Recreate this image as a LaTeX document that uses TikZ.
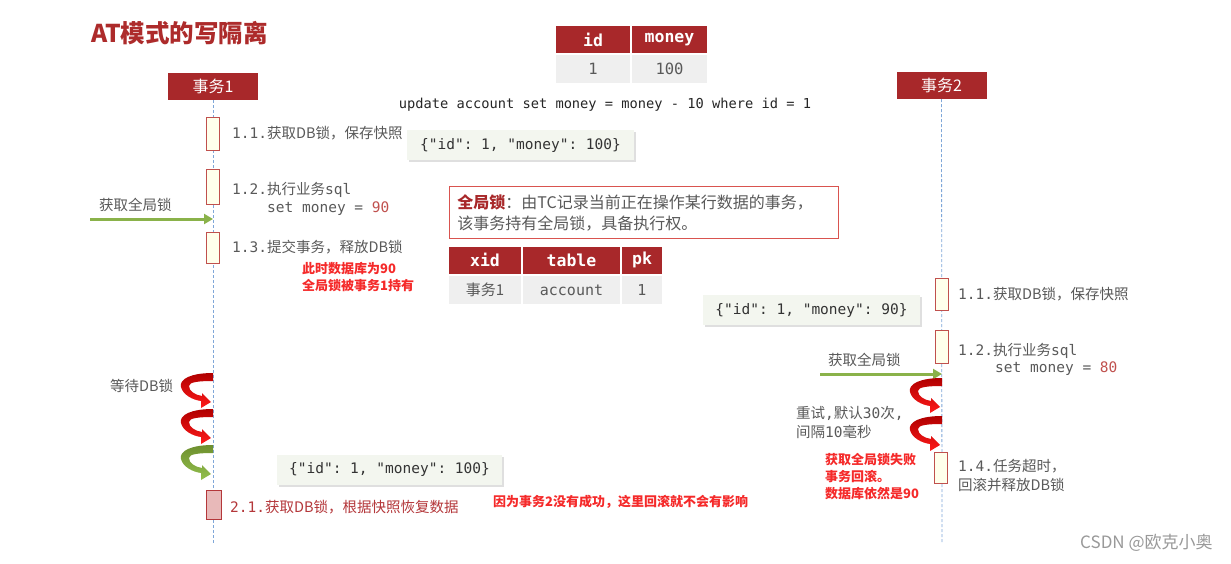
\documentclass[tikz,border=0pt]{standalone}
\usepackage{fontspec}
\setmainfont{Noto Sans CJK SC}
\setmonofont{DejaVu Sans Mono}
\usetikzlibrary{arrows.meta,shadows}
\definecolor{hdrred}{HTML}{A8282A}
\definecolor{titlered}{HTML}{AD2B2B}
\definecolor{actborder}{HTML}{C0504D}
\definecolor{actfill}{HTML}{FFFFEB}
\definecolor{pinkfill}{HTML}{E8B9B9}
\definecolor{lifeblue}{HTML}{7FA7D8}
\definecolor{arrowgreen}{HTML}{8AB24A}
\definecolor{txtgrey}{HTML}{595959}
\definecolor{cellgrey}{HTML}{EFEFEF}
\definecolor{jsonbg}{HTML}{F3F6EF}
\definecolor{notered}{HTML}{F52A2A}
\definecolor{numred}{HTML}{C0504D}
\definecolor{darkred2}{HTML}{B4373A}
\definecolor{curldark}{HTML}{B00000}
\definecolor{curlbright}{HTML}{FF1A1A}
\definecolor{greendark}{HTML}{6E8F2E}
\definecolor{greenlight}{HTML}{93C04E}
\definecolor{boxred}{HTML}{D9534F}
\newcommand{\mytt}[1]{{\ttfamily #1}}
\tikzset{
  redcurl/.pic={\shade[top color=curldark, bottom color=curlbright]
    (0,0) .. controls (-22,0) and (-34,6) .. (-32,14)
    .. controls (-30,22) and (-20,27) .. (-12,28) -- (-12,35) -- (-2,29) -- (-11,20) -- (-11,23)
    .. controls (-18,22) and (-24,18) .. (-24,13)
    .. controls (-24,9) and (-14,8) .. (0,8) -- cycle;},
  greencurl/.pic={\shade[top color=greendark, bottom color=greenlight]
    (0,0) .. controls (-22,0) and (-34,6) .. (-32,14)
    .. controls (-30,22) and (-20,27) .. (-12,28) -- (-12,35) -- (-2,29) -- (-11,20) -- (-11,23)
    .. controls (-18,22) and (-24,18) .. (-24,13)
    .. controls (-24,9) and (-14,8) .. (0,8) -- cycle;},
  txbox/.style={fill=hdrred, text=white, minimum width=90pt, minimum height=27pt, inner sep=0pt,
    font=\fontsize{16}{16}\selectfont},
  lifeline/.style={draw=lifeblue, line width=0.8pt, dash pattern=on 3pt off 2pt},
  act/.style={draw=actborder, fill=actfill, line width=1pt, minimum width=13pt, inner sep=0pt},
  lbl/.style={anchor=west, inner sep=0pt, text=txtgrey, font=\fontsize{14.5}{19}\selectfont, align=left},
  rednote/.style={anchor=west, inner sep=0pt, text=notered, font=\fontsize{13}{17}\selectfont\bfseries, align=left},
  hdr/.style={fill=hdrred, text=white, minimum height=27pt, inner sep=0pt,
    font=\fontsize{16.5}{16.5}\selectfont\ttfamily\bfseries},
  cell/.style={fill=cellgrey, text=txtgrey, minimum height=28pt, inner sep=0pt,
    font=\fontsize{15.5}{15.5}\selectfont\ttfamily},
  jbox/.style={fill=jsonbg, text=black!80, minimum height=30pt, inner sep=0pt,
    font=\fontsize{14.5}{14.5}\selectfont\ttfamily,
    drop shadow={shadow xshift=1.5pt, shadow yshift=-2pt, opacity=0.25}},
  garrow/.style={draw=arrowgreen, line width=3pt, -{Triangle[length=9pt,width=10pt]}},
}
\begin{document}
\begin{tikzpicture}[x=1pt,y=-1pt]
\useasboundingbox (0,0) rectangle (1231,563);
\fill[white] (0,0) rectangle (1231,563);

% title
\node[anchor=west, inner sep=0pt, text=titlered, font=\fontsize{24.5}{24.5}\selectfont\bfseries] (title) at (91,33) {AT模式的写隔离};

% transaction heads
\node[txbox] (t1) at (213,86.5) {事务1};
\node[txbox] (t2) at (941.5,85.5) {事务2};
\coordinate (t1end) at (213,545);
\coordinate (t2end) at (942,542);
\draw[lifeline] (t1.south) -- (t1end);
\draw[lifeline] (t2.south) -- (t2end);

% top table
\node[hdr, minimum width=74pt] (hid) at (593,39.5) {id};
\node[hdr, minimum width=75pt] (hmoney) at (669.5,39.5) {money};
\node[cell, minimum width=74pt] (cid) at (593,69) {1};
\node[cell, minimum width=75pt] (cmoney) at (669.5,69) {100};

\node[inner sep=0pt, text=black!85, font=\fontsize{13.7}{13.7}\selectfont\ttfamily] (upd) at (605,105) {update account set money = money - 10 where id = 1};

% transaction 1 activations
\node[act, minimum height=33pt] (a11) at (213,133.5) {};
\node[act, minimum height=35pt] (a12) at (213,186.5) {};
\node[act, minimum height=31pt] (a13) at (213,247.5) {};
\node[act, draw=darkred2, fill=pinkfill, minimum width=15pt, minimum height=29pt] (a21) at (214,504.5) {};

\node[lbl] (l11) at (232,133) {\mytt{1.1.}获取DB锁，保存快照};
\node[lbl] (l12) at (232,190) {\mytt{1.2.}执行业务\mytt{sql}};
\node[lbl] (l12b) at (267,209) {\mytt{set money = \textcolor{numred}{90}}};
\node[lbl] (l13) at (232,247) {\mytt{1.3.}提交事务，释放DB锁};
\node[rednote] (n1) at (302,277) {此时数据库为90\\全局锁被事务1持有};

\node[jbox, minimum width=227pt] (j1) at (520.5,145) {\{"id": 1, "money": 100\}};

% green arrow 1
\coordinate (g1s) at (90,219);
\coordinate (g1e) at (213,219);
\draw[garrow] (g1s) -- (g1e);
\node[lbl] (g1l) at (99,205) {获取全局锁};

% global lock box
\node[draw=boxred, line width=0.9pt, fill=white, anchor=north west, minimum width=389pt, minimum height=52pt,
  text width=373pt, inner xsep=8pt, inner ysep=0pt, align=left, text=txtgrey,
  font=\fontsize{16}{21}\selectfont] (gl) at (449,186)
  {\textcolor{hdrred}{\bfseries 全局锁}：由TC记录当前正在操作某行数据的事务，\\该事务持有全局锁，具备执行权。};

% lock table
\node[hdr, minimum width=72pt] (hxid) at (485,260) {xid};
\node[hdr, minimum width=97pt] (htable) at (571.5,260) {table};
\node[hdr, minimum width=40pt] (hpk) at (642,260) {pk};
\node[cell, minimum width=72pt, font=\fontsize{15}{15}\selectfont] (cxid) at (485,290) {事务1};
\node[cell, minimum width=97pt, font=\fontsize{15}{15}\selectfont\ttfamily] (ctable) at (571.5,290) {account};
\node[cell, minimum width=40pt, font=\fontsize{15}{15}\selectfont\ttfamily] (cpk) at (642,290) {1};

% transaction 2
\node[act, minimum height=32pt] (b11) at (942,294) {};
\node[act, minimum height=33pt] (b12) at (942,346.5) {};
\node[act, minimum height=31pt] (b14) at (941,467.5) {};

\node[lbl] (r11) at (958,294) {\mytt{1.1.}获取DB锁，保存快照};
\node[lbl] (r12) at (958,351) {\mytt{1.2.}执行业务\mytt{sql}};
\node[lbl] (r12b) at (995,369) {\mytt{set money = \textcolor{numred}{80}}};
\node[lbl] (r14) at (958,476) {\mytt{1.4.}任务超时，\\回滚并释放DB锁};

\node[jbox, minimum width=217pt] (j2) at (811.5,310) {\{"id": 1, "money": 90\}};

\coordinate (g2s) at (820,374);
\coordinate (g2e) at (942,374);
\draw[garrow] (g2s) -- (g2e);
\node[lbl] (g2l) at (828,360) {获取全局锁};

\pic (c21) at (942,378) {redcurl};
\pic (c22) at (942,416) {redcurl};
\node[lbl] (retry) at (796,422) {重试\mytt{,}默认\mytt{30}次\mytt{,}\\间隔\mytt{10}毫秒};
\node[rednote] (n3) at (825,477) {获取全局锁失败\\事务回滚。\\数据库依然是90};

% waiting on tx1
\node[lbl] (wait) at (110,386) {等待DB锁};
\pic (c11) at (213,373) {redcurl};
\pic (c12) at (213,409) {redcurl};
\pic (c13) at (213,445) {greencurl};

\node[jbox, minimum width=225pt] (j3) at (389.5,469.5) {\{"id": 1, "money": 100\}};
\node[lbl, text=darkred2] (l21) at (230,507) {\mytt{2.1.}获取DB锁，根据快照恢复数据};
\node[rednote] (n2) at (493,502) {因为事务2没有成功，这里回滚就不会有影响};

\node[anchor=west, inner sep=0pt, text=black!40, font=\fontsize{17}{17}\selectfont] (csdn) at (1080,543) {CSDN @欧克小奥};
\end{tikzpicture}
\end{document}
